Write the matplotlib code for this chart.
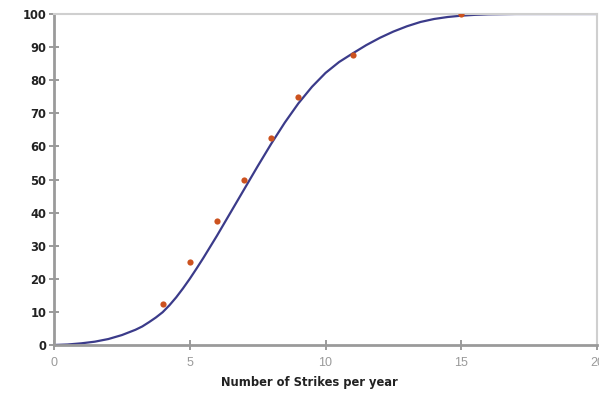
import matplotlib
matplotlib.use("Agg")
import matplotlib.pyplot as plt

# Observed data points
obs_x = [4, 5, 6, 7, 8, 9, 11, 15]
obs_y = [12.5, 25, 37.5, 50, 62.5, 75, 87.5, 100]

# Fitted curve
curve_x = [0, 0.5, 1, 1.5, 2, 2.5, 3, 3.25, 3.5, 3.75, 4, 4.25, 4.5, 4.75,
           5, 5.25, 5.5, 6, 6.5, 7, 7.5, 8, 8.5, 9, 9.5, 10, 10.5, 11, 11.5,
           12, 12.5, 13, 13.5, 14, 14.5, 15, 15.5, 16, 17, 20]
curve_y = [0, 0.15, 0.5, 1.0, 1.8, 3.0, 4.6, 5.6, 6.9, 8.3, 9.9, 12.0, 14.4,
           17.1, 20, 23.1, 26.3, 33, 40, 47, 54, 60.8, 67.2, 73, 78, 82.2,
           85.5, 88.1, 90.6, 92.8, 94.7, 96.3, 97.6, 98.5, 99.1, 99.5, 99.75,
           99.9, 100, 100]

x_ticks = [0, 5, 10, 15, 20]
y_ticks = [0, 10, 20, 30, 40, 50, 60, 70, 80, 90, 100]
x_label = "Number of Strikes per year"

plt.rcParams['font.family'] = ['DejaVu Sans']

fig = plt.figure(figsize=(5.99, 3.97), dpi=100)
ax = fig.add_axes([0.0902, 0.131, 0.9065, 0.8337])

ax.plot(curve_x, curve_y, color='#3b3b8a', lw=1.6, zorder=2,
        solid_capstyle='round', solid_joinstyle='round')
ax.scatter(obs_x, obs_y, s=20, color='#cc521f', zorder=3, linewidths=0)

ax.set_xlim(0, 20)
ax.set_ylim(0, 100)
ax.set_xticks(x_ticks)
ax.set_yticks(y_ticks)
ax.set_xticklabels([str(t) for t in x_ticks], color='#9a9a9a', fontsize=9,
                   family='Liberation Sans')
ax.set_yticklabels([str(t) for t in y_ticks], color='#222222', fontsize=8.3,
                   fontweight='bold')
ax.set_xlabel(x_label, fontsize=8.3, fontweight='bold', color='#222222',
              labelpad=2)
ax.xaxis.set_label_coords(0.4696, -0.095)

for side in ['left', 'bottom']:
    ax.spines[side].set_color('#9a9a9a')
    ax.spines[side].set_linewidth(2.0)
for side in ['top', 'right']:
    ax.spines[side].set_color('#cfcfcf')
    ax.spines[side].set_linewidth(1.5)

ax.tick_params(axis='both', direction='inout', length=7, width=1.2, color='#8a8a8a')
ax.tick_params(axis='y', pad=2)
ax.tick_params(axis='x', pad=5)

fig.savefig('out.png', dpi=100)
